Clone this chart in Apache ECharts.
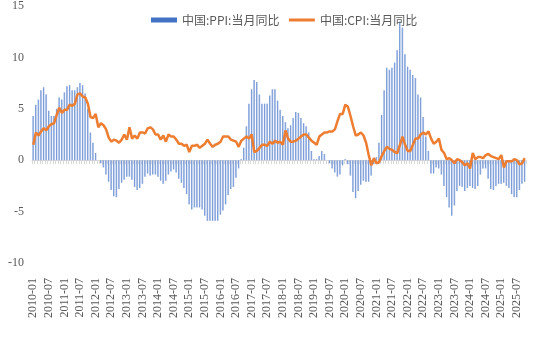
<!DOCTYPE html>
<html><head><meta charset="utf-8">
<script src="https://cdn.jsdelivr.net/npm/echarts@6/dist/echarts.min.js"></script>
<style>html,body{margin:0;padding:0;background:#fff}#c{width:550px;height:363px}</style>
</head><body><div id="c"></div>
<script>
// Monthly, 2010-01 .. 2025-10
var startYear = 2010, monthCount = 190;
var ppiName = '中国:PPI:当月同比';
var cpiName = '中国:CPI:当月同比';
var yTicks = [-10, -5, 0, 5, 10, 15];

var ppi = [
  4.3, 5.4, 5.9, 6.8, 7.1, 6.4, 4.8, 4.3, 4.3, 5.0, 6.1, 5.9,
  6.6, 7.2, 7.3, 6.8, 6.8, 7.1, 7.5, 7.3, 6.5, 5.0, 2.7, 1.7,
  0.7, 0.0, -0.3, -0.7, -1.4, -2.1, -2.9, -3.5, -3.6, -2.8, -2.2, -1.9,
  -1.6, -1.6, -1.9, -2.6, -2.9, -2.7, -2.3, -1.6, -1.3, -1.5, -1.4, -1.4,
  -1.6, -2.0, -2.3, -2.0, -1.4, -1.1, -0.9, -1.2, -1.8, -2.2, -2.7, -3.3,
  -4.3, -4.8, -4.6, -4.6, -4.6, -4.8, -5.4, -5.9, -5.9, -5.9, -5.9, -5.9,
  -5.3, -4.9, -4.3, -3.4, -2.8, -2.6, -1.7, -0.8, 0.1, 1.2, 3.3, 5.5,
  6.9, 7.8, 7.6, 6.4, 5.5, 5.5, 5.5, 6.3, 6.9, 6.9, 5.8, 4.9,
  4.3, 3.7, 3.1, 3.4, 4.1, 4.7, 4.6, 4.1, 3.6, 3.3, 2.7, 0.9,
  0.1, 0.1, 0.4, 0.9, 0.6, 0.0, -0.3, -0.8, -1.2, -1.6, -1.4, -0.5,
  0.1, -0.4, -1.5, -3.1, -3.7, -3.0, -2.4, -2.0, -2.1, -2.1, -1.5, -0.4,
  0.3, 1.7, 4.4, 6.8, 9.0, 8.8, 9.0, 9.5, 10.7, 13.5, 12.9, 10.3,
  9.1, 8.8, 8.3, 8.0, 6.4, 6.1, 4.2, 2.3, 0.9, -1.3, -1.3, -0.7,
  -0.8, -1.4, -2.5, -3.6, -4.6, -5.4, -4.4, -3.0, -2.5, -2.6, -3.0, -2.7,
  -2.5, -2.7, -2.8, -2.5, -1.4, -0.8, -0.8, -1.8, -2.8, -2.9, -2.5, -2.3,
  -2.3, -2.2, -2.5, -2.7, -3.3, -3.6, -3.6, -2.9, -2.3, -2.1
];
var cpi = [
  1.5, 2.7, 2.4, 2.8, 3.1, 2.9, 3.3, 3.5, 3.6, 4.4, 5.1, 4.6,
  4.9, 4.9, 5.4, 5.3, 5.5, 6.4, 6.5, 6.2, 6.1, 5.5, 4.2, 4.1,
  4.5, 3.2, 3.6, 3.4, 3.0, 2.2, 1.8, 2.0, 1.9, 1.7, 2.0, 2.5,
  2.0, 3.2, 2.1, 2.4, 2.1, 2.7, 2.7, 2.6, 3.1, 3.2, 3.0, 2.5,
  2.5, 2.0, 2.4, 1.8, 2.5, 2.3, 2.3, 2.0, 1.6, 1.6, 1.4, 1.5,
  0.8, 1.4, 1.4, 1.5, 1.2, 1.4, 1.6, 2.0, 1.6, 1.3, 1.5, 1.6,
  1.8, 2.3, 2.3, 2.3, 2.0, 1.9, 1.8, 1.3, 1.9, 2.1, 2.3, 2.1,
  2.5, 0.8, 0.9, 1.2, 1.5, 1.5, 1.4, 1.8, 1.6, 1.9, 1.7, 1.8,
  1.5, 2.9, 2.1, 1.8, 1.8, 1.9, 2.1, 2.3, 2.5, 2.5, 2.2, 1.9,
  1.7, 1.5, 2.3, 2.5, 2.7, 2.7, 2.8, 2.8, 3.0, 3.8, 4.5, 4.5,
  5.4, 5.2, 4.3, 3.3, 2.4, 2.5, 2.7, 2.4, 1.7, 0.5, -0.5, 0.2,
  -0.3, -0.2, 0.4, 0.9, 1.3, 1.1, 1.0, 0.8, 0.7, 1.5, 2.3, 1.5,
  0.9, 0.9, 1.5, 2.1, 2.1, 2.5, 2.7, 2.5, 2.8, 2.1, 1.6, 1.8,
  2.1, 1.0, 0.7, 0.1, 0.2, 0.0, -0.3, 0.1, 0.0, -0.2, -0.5, -0.3,
  -0.8, 0.7, 0.1, 0.3, 0.3, 0.2, 0.5, 0.6, 0.4, 0.3, 0.2, 0.1,
  0.5, -0.7, -0.1, -0.1, -0.1, 0.1, 0.0, -0.4, -0.3, 0.2
];

var months = [];
for (var i = 0; i < monthCount; i++) {
  var y = startYear + Math.floor(i / 12), m = (i % 12) + 1;
  months.push(y + '-' + (m < 10 ? '0' + m : m));
}

var chart = echarts.init(document.getElementById('c'));
var serif = '"Liberation Serif", "Noto Sans CJK SC", serif';
chart.setOption({
  animation: false,
  backgroundColor: '#fff',
  grid: { left: 32, right: 24, top: 6, bottom: 100, containLabel: false },
  legend: {
    left: 146, top: 9,
    itemWidth: 26, itemHeight: 5, itemGap: 8,
    textStyle: { color: '#595959', fontSize: 12, fontFamily: '"Noto Sans CJK SC", sans-serif' },
    data: [
      { name: ppiName, icon: 'rect', itemStyle: { color: '#4472C4' } },
      { name: cpiName, itemStyle: { opacity: 0 }, lineStyle: { color: '#ED7D31', width: 3 } }
    ]
  },
  xAxis: [
    {
      type: 'category', data: months, position: 'bottom',
      axisLine: { show: false, onZero: false }, axisTick: { show: false },
      axisLabel: { interval: 5, rotate: 90, margin: 15, color: '#595959', fontSize: 12, fontFamily: serif }
    },
    {
      type: 'category', data: months, position: 'bottom',
      axisLine: { show: true, onZero: true, lineStyle: { color: '#d9d9d9', width: 1 } },
      axisTick: { show: true, interval: 0, length: 4, lineStyle: { color: '#d9d9d9' } },
      axisLabel: { show: false }
    }
  ],
  yAxis: {
    type: 'value', min: yTicks[0], max: yTicks[yTicks.length - 1], interval: 5,
    axisLine: { show: false }, axisTick: { show: false }, splitLine: { show: false },
    axisLabel: { color: '#595959', fontSize: 12, fontFamily: serif, margin: 8 }
  },
  series: [
    {
      name: ppiName, type: 'bar', data: ppi, barWidth: '60%', xAxisIndex: 0,
      itemStyle: {
        color: new echarts.graphic.LinearGradient(0, 0, 1, 0, [
          { offset: 0, color: '#5B84D0' }, { offset: 1, color: '#B4C7E7' }
        ])
      }
    },
    {
      name: cpiName, type: 'line', data: cpi, xAxisIndex: 0,
      symbol: 'none', smooth: false,
      lineStyle: { color: '#ED7D31', width: 2.5 },
      itemStyle: { color: '#ED7D31' }, z: 5
    }
  ]
});
</script></body></html>
